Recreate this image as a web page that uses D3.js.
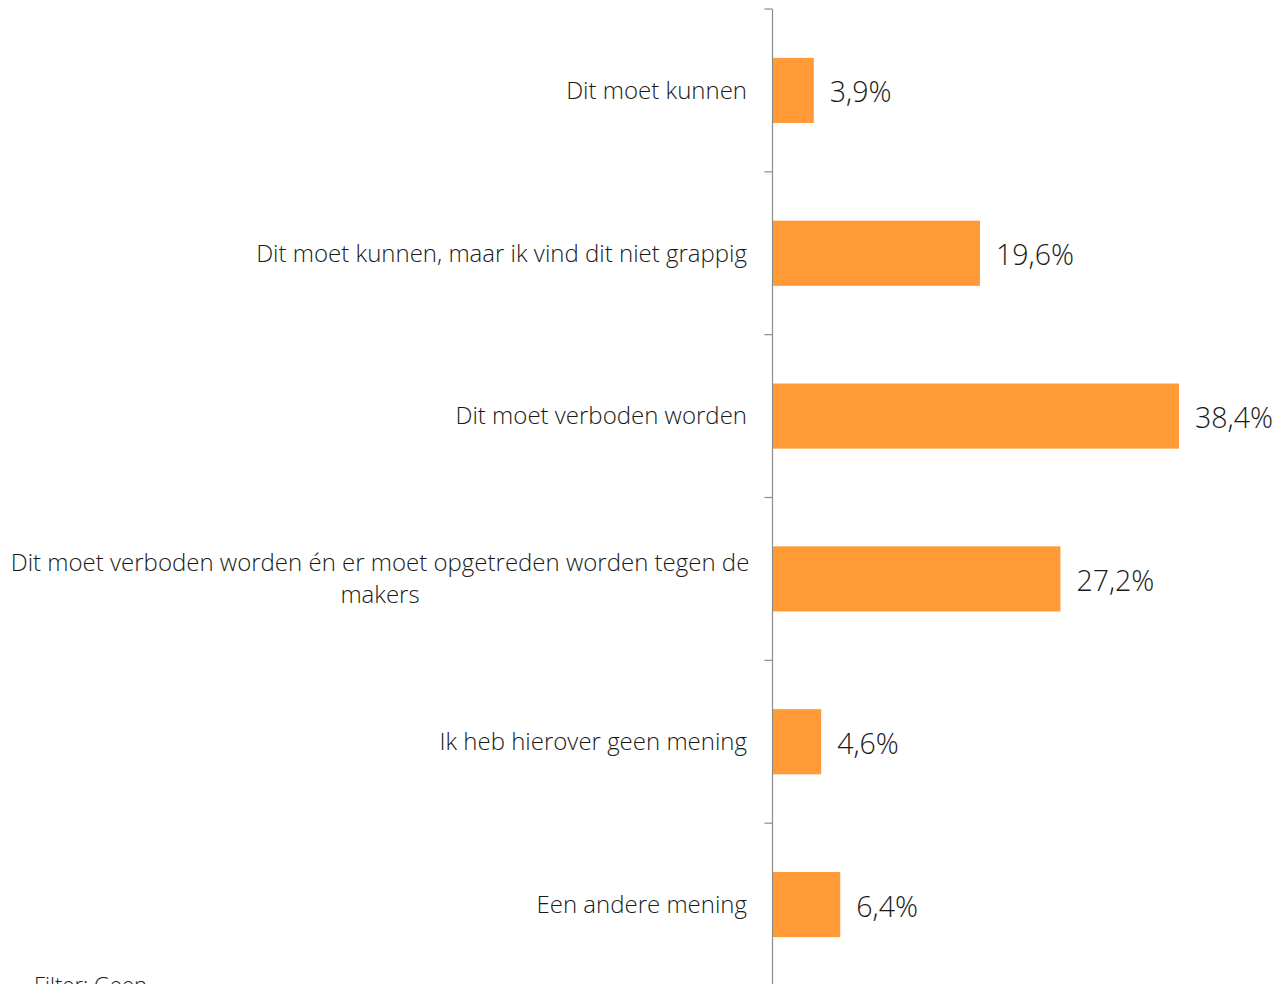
<!DOCTYPE html>
<html>
<head>
<meta charset="utf-8">
<script src="https://cdn.jsdelivr.net/npm/d3@7"></script>
<style>
  body { margin: 0; background: #fff; }
  svg { display: block; font-family: "Open Sans", "Noto Sans", sans-serif; }
</style>
</head>
<body>
<script>
// answer categories and shares (%)
var categories = [
  "Dit moet kunnen",
  "Dit moet kunnen, maar ik vind dit niet grappig",
  "Dit moet verboden worden",
  "Dit moet verboden worden én er moet opgetreden worden tegen de makers",
  "Ik heb hierover geen mening",
  "Een andere mening"
];
var values = [3.9, 19.6, 38.4, 27.2, 4.6, 6.4];
var valueLabels = ["3,9%", "19,6%", "38,4%", "27,2%", "4,6%", "6,4%"];

var width = 1278, height = 984;
var axisX = 772.5;

var svg = d3.select("body").append("svg")
  .attr("width", width)
  .attr("height", height);

var y = d3.scaleBand()
  .domain(categories)
  .range([9, 986])
  .paddingInner(0.6)
  .paddingOuter(0.3);

var x = d3.scaleLinear()
  .domain([0, 38.4])
  .range([axisX, 1179]);

var data = categories.map(function (c, i) {
  return { cat: c, value: values[i], label: valueLabels[i] };
});

// bars
svg.selectAll(".bar")
  .data(data)
  .enter().append("rect")
  .attr("class", "bar")
  .attr("x", x(0))
  .attr("y", function (d) { return y(d.cat); })
  .attr("width", function (d) { return x(d.value) - x(0); })
  .attr("height", y.bandwidth())
  .attr("fill", "#ff9a36");

// axis line and tick marks at band boundaries
var ax = svg.append("g");
ax.append("line")
  .attr("x1", axisX).attr("x2", axisX)
  .attr("y1", 9).attr("y2", 986)
  .attr("stroke", "#8c8c8c").attr("stroke-width", 1.2);

var bounds = d3.range(categories.length + 1).map(function (i) { return 9 + i * (977 / categories.length); });
ax.selectAll(".tk")
  .data(bounds)
  .enter().append("line")
  .attr("x1", axisX - 8).attr("x2", axisX)
  .attr("y1", function (d) { return d; })
  .attr("y2", function (d) { return d; })
  .attr("stroke", "#8c8c8c").attr("stroke-width", 1.2);

// category labels (wrap long ones)
var maxW = 745;
svg.selectAll(".cat")
  .data(data)
  .enter().append("text")
  .attr("class", "cat")
  .attr("font-size", 24)
  .attr("font-weight", 300)
  .attr("fill", "#1a1a1a")
  .each(function (d) {
    var t = d3.select(this);
    var cy = y(d.cat) + y.bandwidth() / 2;
    t.attr("text-anchor", "end").attr("x", 747).attr("y", cy).attr("dy", "0.35em").text(d.cat);
    if (this.getComputedTextLength() > maxW) {
      var words = d.cat.split(" "), lines = [], line = [];
      t.text(null);
      var probe = t.append("tspan");
      words.forEach(function (w) {
        line.push(w);
        probe.text(line.join(" "));
        if (probe.node().getComputedTextLength() > maxW && line.length > 1) {
          line.pop();
          lines.push(line.join(" "));
          line = [w];
        }
      });
      lines.push(line.join(" "));
      probe.remove();
      var lh = 32;
      t.attr("text-anchor", "middle").attr("x", null).attr("y", null).attr("dy", null);
      lines.forEach(function (l, i) {
        t.append("tspan")
          .attr("x", 380)
          .attr("y", cy + (i - (lines.length - 1) / 2) * lh)
          .attr("dy", "0.35em")
          .text(l);
      });
    }
  });

// value labels
svg.selectAll(".val")
  .data(data)
  .enter().append("text")
  .attr("class", "val")
  .attr("x", function (d) { return x(d.value) + 16; })
  .attr("y", function (d) { return y(d.cat) + y.bandwidth() / 2 + 2; })
  .attr("dy", "0.35em")
  .attr("font-size", 28.5)
  .attr("font-weight", 300)
  .attr("fill", "#1a1a1a")
  .text(function (d) { return d.label; });

// footer note
svg.append("text")
  .attr("x", 34)
  .attr("y", 993)
  .attr("font-size", 22)
  .attr("font-weight", 300)
  .attr("fill", "#1a1a1a")
  .text("Filter: Geen");
</script>
</body>
</html>
